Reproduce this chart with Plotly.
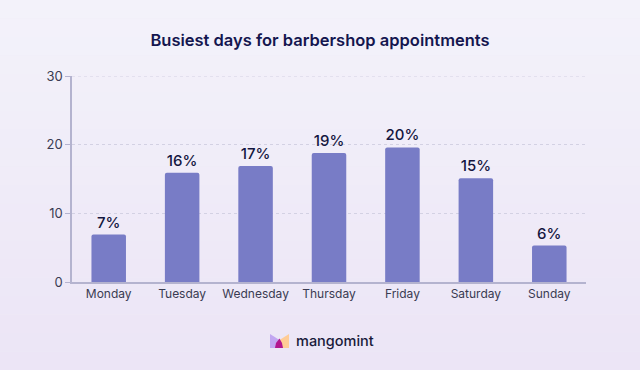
import plotly.graph_objects as go

days = ["Monday", "Tuesday", "Wednesday", "Thursday", "Friday", "Saturday", "Sunday"]
values = [6.9, 15.9, 16.9, 18.8, 19.6, 15.1, 5.3]
labels = ["7%", "16%", "17%", "19%", "20%", "15%", "6%"]
y_ticks = [0, 10, 20, 30]

FONT = "Inter, Lato, sans-serif"
L, R, T, B = 72, 54, 76, 88
W, H = 640, 370
PW, PH = W - L - R, H - T - B

def px_x(p):
    return (p - L) / PW

def px_y(p):
    return (H - B - p) / PH

fig = go.Figure()
fig.add_trace(go.Bar(
    x=days, y=values, text=labels, textposition="outside",
    textfont=dict(family=FONT, size=15, color="#14163f", weight=500),
    marker=dict(color="#787cc6", cornerradius=2, line=dict(width=0)),
    cliponaxis=False,
))

shapes = []
# background gradient bands
top = (243, 242, 250)
bot = (236, 229, 246)
n = 20
for i in range(n):
    t = i / (n - 1)
    c = tuple(round(top[k] + (bot[k] - top[k]) * t) for k in range(3))
    shapes.append(dict(type="rect", xref="paper", yref="paper", layer="below",
                       x0=px_x(0), x1=px_x(W), y0=px_y(H * (i + 1) / n), y1=px_y(H * i / n),
                       fillcolor="rgb(%d,%d,%d)" % c, line=dict(width=0)))

def path(pts):
    return "M " + " L ".join("%f %f" % (px_x(a), px_y(b)) for a, b in pts) + " Z"

shapes.append(dict(type="path", xref="paper", yref="paper",
                   path=path([(270, 334), (279.5, 340), (279.5, 348), (270, 348)]),
                   fillcolor="#c2a6f1", line=dict(width=0)))
shapes.append(dict(type="path", xref="paper", yref="paper",
                   path=path([(289, 334), (279.5, 340), (279.5, 348), (289, 348)]),
                   fillcolor="#ffcc96", line=dict(width=0)))
shapes.append(dict(type="path", xref="paper", yref="paper",
                   path=path([(275, 348), (276, 343), (279.5, 338.5), (282, 343), (283, 348)]),
                   fillcolor="#b3178f", line=dict(width=0)))
# top gridline at 30 (plotly drops it at the range edge)
shapes.append(dict(type="line", xref="paper", yref="y", x0=0, x1=1, y0=30, y1=30,
                   line=dict(color="#d3d1e3", width=1, dash="dot"), layer="below"))

fig.update_layout(
    width=W, height=H,
    margin=dict(l=L, r=R, t=T, b=B),
    paper_bgcolor="#efecf7", plot_bgcolor="rgba(0,0,0,0)",
    bargap=0.53, showlegend=False, shapes=shapes,
    title=dict(text="Busiest days for barbershop appointments", x=0.5, xanchor="center",
               y=0.89, yanchor="middle",
               font=dict(family=FONT, size=16.5, color="#14164f", weight=600)),
    font=dict(family=FONT, color="#2a2b45"),
)
fig.update_yaxes(range=[0, 30], tickvals=y_ticks, showgrid=True, gridcolor="#d3d1e3",
                 griddash="dot", gridwidth=1, showline=True, linecolor="#b4b3cf",
                 linewidth=1.5, ticks="outside", ticklen=5, tickcolor="#b4b3cf",
                 tickfont=dict(size=13, color="#3a3b52"), zeroline=False)
fig.update_xaxes(showline=True, linecolor="#b4b3cf", linewidth=1.5, ticks="",
                 tickfont=dict(size=12, color="#3a3b52"))
fig.add_annotation(text="mangomint", xref="paper", yref="paper", x=px_x(294), y=px_y(341),
                   xanchor="left", yanchor="middle", showarrow=False,
                   font=dict(family=FONT, size=14.5, color="#191a3a", weight=500))
fig.write_html("out.html", config={"displayModeBar": False},
               post_script="document.body.style.margin='0';")
